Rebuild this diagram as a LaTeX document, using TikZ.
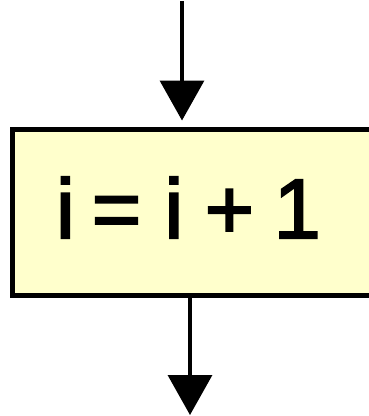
\documentclass[tikz,border=0pt]{standalone}
\usepackage{fontspec}
\setmainfont{Liberation Sans}
\newfontfamily\lblfont[FakeBold=2.2]{Liberation Sans}
\usetikzlibrary{arrows.meta}
\definecolor{boxfill}{HTML}{FFFFCC}
\tikzset{
  procbox/.style={draw=black, line width=5pt, fill=boxfill, minimum width=368pt, minimum height=166pt, inner sep=0pt},
  flow/.style={line width=3.5pt, -{Triangle[length=40pt,width=44pt]}},
  lbl/.style={inner sep=0pt, font=\fontsize{85}{85}\lblfont}
}
\begin{document}
\begin{tikzpicture}[x=1pt,y=-1pt]
\useasboundingbox (0,0) rectangle (369,416);
\clip (0,0) rectangle (369,416);
\node[procbox] (box) at (196,212) {};
\node[lbl] (txt) at (188.5,207.5) {i\hspace{0.2em}=\hspace{0.27em}i\hspace{0.25em}+\hspace{0.23em}1};
\coordinate (top) at (182,1);
\coordinate (bot) at (190,415);
\draw[flow, shorten >=6pt] (top) -- (top |- box.north);
\draw[flow] (bot |- box.south) -- (bot);
\end{tikzpicture}
\end{document}
